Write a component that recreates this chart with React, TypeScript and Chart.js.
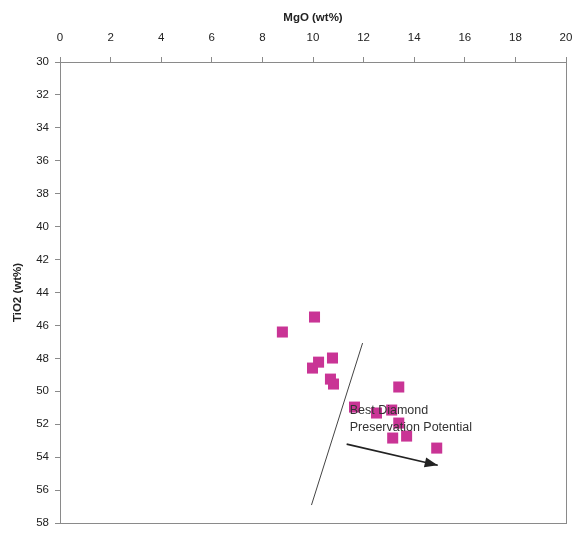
import React, { useEffect, useRef } from "react";
import { Chart, registerables } from "chart.js";

Chart.register(...registerables);

// Sample compositions (wt%)
const mgo = [8.79, 10.06, 9.98, 10.22, 10.77, 10.69, 10.81, 13.39, 11.64, 12.51, 13.11, 13.39, 13.15, 13.7, 14.89];
const tio2 = [46.4, 45.49, 48.59, 48.23, 47.98, 49.26, 49.56, 49.74, 50.96, 51.32, 51.14, 51.93, 52.84, 52.72, 53.45];

// Dividing line
const boundaryX = [11.96, 9.94];
const boundaryY = [47.07, 56.91];

// Trend arrow (tail -> head)
const arrowX = [11.33, 14.93];
const arrowY = [53.21, 54.49];

// Annotation text and anchor (data units)
const noteLines = ["Best Diamond", "Preservation Potential"];
const noteX = 11.45;
const noteY = 51.2;

const xMin = 0;
const xMax = 20;
const yMin = 30;
const yMax = 58;
const tickStep = 2;

const FONT = "'Liberation Sans', Arial, sans-serif";

const frameAndNotes = {
  id: "frameAndNotes",
  afterDatasetsDraw(chart: any) {
    const { ctx, chartArea, scales } = chart;
    const xs = scales.x;
    const ys = scales.y;
    ctx.save();
    // plot frame
    ctx.strokeStyle = "#8a8a8a";
    ctx.lineWidth = 1;
    ctx.strokeRect(chartArea.left + 0.5, chartArea.top + 0.5, chartArea.right - chartArea.left, chartArea.bottom - chartArea.top);

    // arrowhead at the end of the trend arrow
    const x0 = xs.getPixelForValue(arrowX[0]);
    const y0 = ys.getPixelForValue(arrowY[0]);
    const x1 = xs.getPixelForValue(arrowX[1]);
    const y1 = ys.getPixelForValue(arrowY[1]);
    const ang = Math.atan2(y1 - y0, x1 - x0);
    const len = 13;
    const half = 5;
    ctx.fillStyle = "#222";
    ctx.beginPath();
    ctx.moveTo(x1, y1);
    ctx.lineTo(x1 - len * Math.cos(ang) + half * Math.sin(ang), y1 - len * Math.sin(ang) - half * Math.cos(ang));
    ctx.lineTo(x1 - len * Math.cos(ang) - half * Math.sin(ang), y1 - len * Math.sin(ang) + half * Math.cos(ang));
    ctx.closePath();
    ctx.fill();

    // annotation text
    ctx.fillStyle = "#333";
    ctx.font = `12.5px ${FONT}`;
    ctx.textAlign = "left";
    ctx.textBaseline = "middle";
    const tx = xs.getPixelForValue(noteX);
    const ty = ys.getPixelForValue(noteY);
    noteLines.forEach((s, i) => ctx.fillText(s, tx, ty + i * 17));
    ctx.restore();
  },
};

export default function App() {
  const ref = useRef<HTMLCanvasElement>(null);

  useEffect(() => {
    if (!ref.current) return;
    const chart = new Chart(ref.current, {
      type: "scatter",
      data: {
        datasets: [
          {
            label: "Samples",
            data: mgo.map((x, i) => ({ x, y: tio2[i] })),
            pointStyle: "rect",
            pointRadius: 7.8,
            pointHoverRadius: 7.8,
            backgroundColor: "#c93495",
            borderColor: "#c93495",
            borderWidth: 0,
          },
          {
            label: "Boundary",
            data: boundaryX.map((x, i) => ({ x, y: boundaryY[i] })),
            showLine: true,
            pointRadius: 0,
            borderColor: "#444",
            borderWidth: 1,
          },
          {
            label: "Trend",
            data: arrowX.map((x, i) => ({ x, y: arrowY[i] })),
            showLine: true,
            pointRadius: 0,
            borderColor: "#222",
            borderWidth: 1.6,
          },
        ],
      },
      options: {
        animation: false,
        responsive: true,
        maintainAspectRatio: false,
        layout: { padding: { left: 0, top: 0, right: 11, bottom: 13 } },
        plugins: { legend: { display: false }, tooltip: { enabled: false } },
        scales: {
          x: {
            type: "linear",
            position: "top",
            min: xMin,
            max: xMax,
            afterFit: (s: any) => {
              s.height = 62;
              s.paddingLeft = 0;
              s.paddingRight = 0;
            },
            ticks: {
              stepSize: tickStep,
              padding: 12,
              color: "#222",
              font: { family: FONT, size: 11.5 },
              maxRotation: 0,
            },
            grid: { drawOnChartArea: false, drawTicks: true, tickLength: 5, color: "#8a8a8a" },
            border: { display: true, color: "#8a8a8a" },
            title: {
              display: true,
              text: "MgO (wt%)",
              color: "#222",
              font: { family: FONT, size: 11.5, weight: "bold" },
              padding: { top: 11, bottom: 0 },
            },
          },
          y: {
            type: "linear",
            reverse: true,
            min: yMin,
            max: yMax,
            afterFit: (s: any) => {
              s.width = 60;
              s.paddingTop = 0;
              s.paddingBottom = 0;
            },
            ticks: {
              stepSize: tickStep,
              padding: 6,
              color: "#222",
              font: { family: FONT, size: 11.5 },
            },
            grid: { drawOnChartArea: false, drawTicks: true, tickLength: 5, color: "#8a8a8a" },
            border: { display: true, color: "#8a8a8a" },
            title: {
              display: true,
              text: "TiO2 (wt%)",
              color: "#222",
              font: { family: FONT, size: 11.5, weight: "bold" },
              padding: { top: 11, bottom: 0 },
            },
          },
        },
      },
      plugins: [frameAndNotes],
    });
    return () => chart.destroy();
  }, []);

  return (
    <div style={{ position: "fixed", left: 0, top: 0, width: 577, height: 536, background: "#fff" }}>
      <canvas ref={ref} />
    </div>
  );
}
